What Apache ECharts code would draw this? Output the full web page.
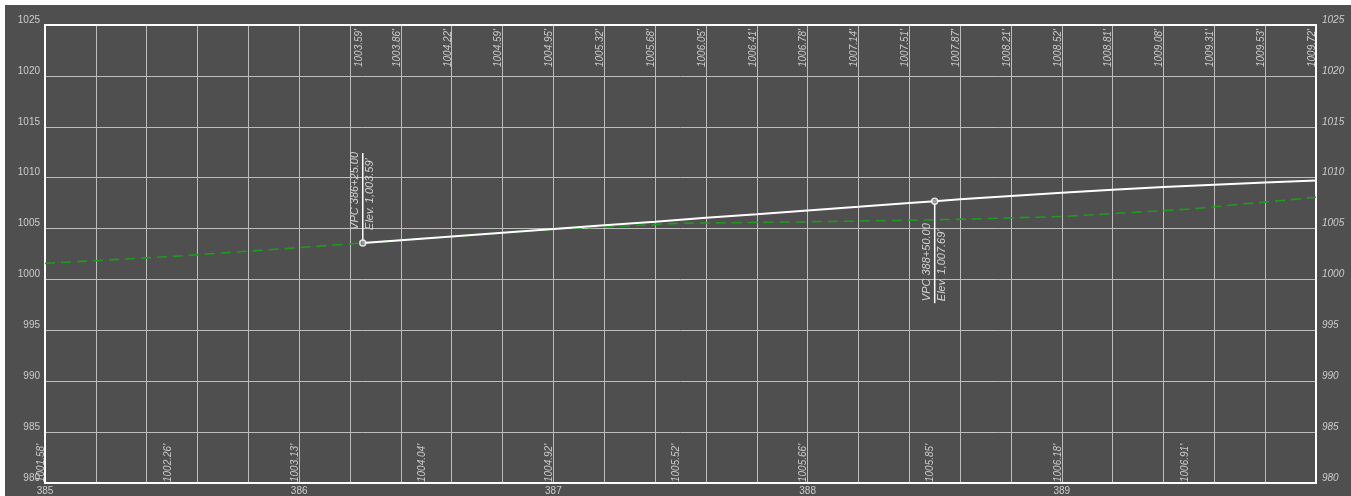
<!DOCTYPE html>
<html>
<head>
<meta charset="utf-8">
<script src="https://cdn.jsdelivr.net/npm/echarts@6/dist/echarts.min.js"></script>
<style>
  html, body { margin: 0; padding: 0; background: #ffffff; width: 1351px; height: 496px; overflow: hidden; }
  #chart { position: absolute; left: 5px; top: 5px; width: 1346px; height: 491px; background: #4f4f4f; }
</style>
</head>
<body>
<div id="chart"></div>
<script>
// Station in hundreds of feet (385 = 385+00)
var profileStations = [386.25, 386.4, 386.6, 386.8, 387.0, 387.2, 387.4, 387.6, 387.8, 388.0, 388.2, 388.4, 388.5, 388.6, 388.8, 389.0, 389.2, 389.4, 389.6, 389.8, 390.0];
var profileElev     = [1003.59, 1003.86, 1004.22, 1004.59, 1004.95, 1005.32, 1005.68, 1006.05, 1006.41, 1006.78, 1007.14, 1007.51, 1007.69, 1007.87, 1008.21, 1008.52, 1008.81, 1009.08, 1009.31, 1009.53, 1009.72];
var topLabelStations = [386.25, 386.4, 386.6, 386.8, 387.0, 387.2, 387.4, 387.6, 387.8, 388.0, 388.2, 388.4, 388.6, 388.8, 389.0, 389.2, 389.4, 389.6, 389.8, 390.0];

var groundStations = [385.0, 385.5, 386.0, 386.5, 387.0, 387.5, 388.0, 388.5, 389.0, 389.5, 390.0];
var groundElev     = [1001.58, 1002.26, 1003.13, 1004.04, 1004.92, 1005.52, 1005.66, 1005.85, 1006.18, 1006.91, 1008.07];
var bottomLabelStations = [385.0, 385.5, 386.0, 386.5, 387.0, 387.5, 388.0, 388.5, 389.0, 389.5];

var vpcStations = [386.25, 388.5];
var vpcElev     = [1003.59, 1007.69];
var vpcNames    = ['VPC 386+25.00', 'VPC 388+50.00'];
var vpcElevText = ["Elev. 1,003.59'", "Elev. 1,007.69'"];
var vpcDirection = ['up', 'down'];

var yTicks = { min: 980, max: 1025, step: 5 };
var xTicks = { min: 385, max: 390, step: 0.2 };

var FONT = '"Liberation Sans", Arial, sans-serif';
var LABEL_COLOR = '#cccccc';

function fmt(v) { return v.toFixed(2) + "'"; }

var profileData = profileStations.map(function (s, i) { return [s, profileElev[i]]; });
var groundData = groundStations.map(function (s, i) { return [s, groundElev[i]]; });
var topLabelData = profileData.filter(function (d) { return topLabelStations.indexOf(d[0]) >= 0; });
var bottomLabelData = groundData.filter(function (d) { return bottomLabelStations.indexOf(d[0]) >= 0; });
var vpcData = vpcStations.map(function (s, i) { return [s, vpcElev[i], i]; });

var chart = echarts.init(document.getElementById('chart'), null, { renderer: 'canvas' });

var option = {
  animation: false,
  backgroundColor: '#4f4f4f',
  grid: { left: 40, top: 20, right: 35, bottom: 13, show: true, borderColor: '#ffffff', borderWidth: 2, backgroundColor: 'transparent', z: 3 },
  xAxis: {
    type: 'value', min: xTicks.min, max: xTicks.max, interval: xTicks.step,
    axisLine: { show: false }, axisTick: { show: false },
    splitLine: { show: true, lineStyle: { color: '#bdbdbd', width: 1 } },
    axisLabel: {
      color: LABEL_COLOR, fontFamily: FONT, fontSize: 10, margin: 3,
      formatter: function (v) {
        var r = Math.round(v);
        if (Math.abs(v - r) < 1e-6 && r < xTicks.max) return String(r);
        return '';
      }
    }
  },
  yAxis: [
    {
      type: 'value', min: yTicks.min, max: yTicks.max, interval: yTicks.step, position: 'left',
      axisLine: { show: false }, axisTick: { show: false },
      splitLine: { show: true, lineStyle: { color: '#bdbdbd', width: 1 } },
      axisLabel: { color: LABEL_COLOR, fontFamily: FONT, fontSize: 10, margin: 5, verticalAlign: 'bottom',
        formatter: function (v) { return String(v); } }
    },
    {
      type: 'value', min: yTicks.min, max: yTicks.max, interval: yTicks.step, position: 'right',
      axisLine: { show: false }, axisTick: { show: false }, splitLine: { show: false },
      axisLabel: { color: LABEL_COLOR, fontFamily: FONT, fontSize: 10, fontStyle: 'italic', margin: 6, verticalAlign: 'bottom',
        formatter: function (v) { return String(v); } }
    }
  ],
  series: [
    {
      type: 'line', name: 'Existing Ground', data: groundData, symbol: 'none', z: 4,
      lineStyle: { color: '#1f9a1f', width: 1.6, type: [10, 6] }
    },
    {
      type: 'line', name: 'Profile', data: profileData, symbol: 'none', z: 5,
      lineStyle: { color: '#ffffff', width: 2 }
    },
    {
      type: 'custom', name: 'VPC annotations', data: vpcData, clip: false, z: 6, silent: true,
      renderItem: function (params, api) {
        var i = api.value(2);
        var p = api.coord([api.value(0), api.value(1)]);
        var up = vpcDirection[i] === 'up';
        var lineEnd = up ? p[1] - 90 : p[1] + 102;
        var textStart = up ? p[1] - 13 : p[1] + 100;
        var tStyle = { fill: '#d2d2d2', font: 'italic 11px ' + FONT };
        return {
          type: 'group',
          children: [
            { type: 'line', shape: { x1: p[0], y1: p[1], x2: p[0], y2: lineEnd }, style: { stroke: '#ffffff', lineWidth: 1.5 } },
            { type: 'text', x: p[0] - 2, y: textStart, rotation: Math.PI / 2,
              style: Object.assign({ text: vpcNames[i], align: 'left', verticalAlign: 'bottom' }, tStyle) },
            { type: 'text', x: p[0] + 2, y: textStart, rotation: Math.PI / 2,
              style: Object.assign({ text: vpcElevText[i], align: 'left', verticalAlign: 'top' }, tStyle) }
          ]
        };
      }
    },
    {
      type: 'scatter', name: 'VPC points', data: vpcData.map(function (d) { return [d[0], d[1]]; }),
      symbol: 'circle', symbolSize: 6, z: 7,
      itemStyle: { color: '#8a8a8a', borderColor: '#ffffff', borderWidth: 1.5 }
    },
    {
      type: 'custom', name: 'Profile labels', data: topLabelData, clip: false, z: 6, silent: true,
      renderItem: function (params, api) {
        var p = api.coord([api.value(0), yTicks.max]);
        return {
          type: 'text', x: p[0] + 1, y: p[1] + 4, rotation: Math.PI / 2,
          style: { text: fmt(api.value(1)), align: 'right', verticalAlign: 'bottom', fill: LABEL_COLOR, font: 'italic 10px ' + FONT }
        };
      }
    },
    {
      type: 'custom', name: 'Ground labels', data: bottomLabelData, clip: false, z: 6, silent: true,
      renderItem: function (params, api) {
        var p = api.coord([api.value(0), yTicks.min]);
        return {
          type: 'text', x: p[0] + 1, y: p[1] - 1, rotation: Math.PI / 2,
          style: { text: fmt(api.value(1)), align: 'left', verticalAlign: 'bottom', fill: LABEL_COLOR, font: 'italic 10px ' + FONT }
        };
      }
    }
  ]
};
chart.setOption(option);
</script>
</body>
</html>
